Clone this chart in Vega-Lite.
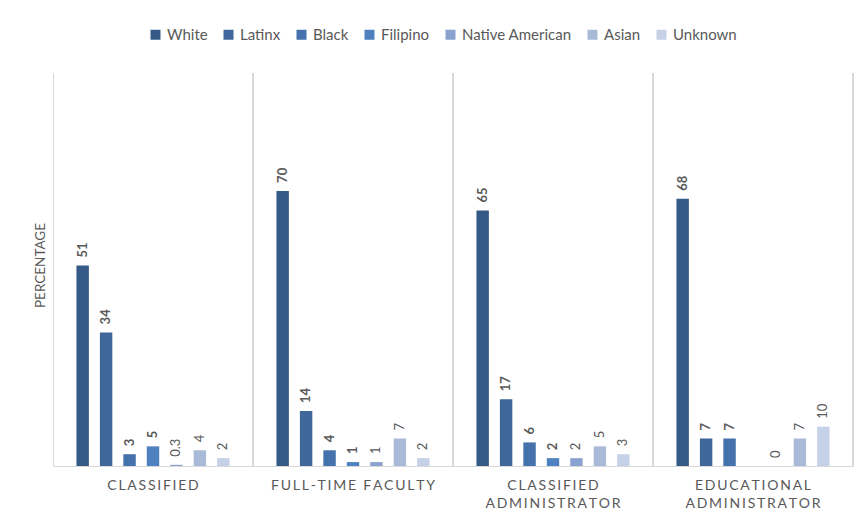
{
  "$schema": "https://vega.github.io/schema/vega-lite/v6.json",
  "width": 800,
  "height": 393,
  "autosize": {"type": "none"},
  "padding": {"left": 53, "top": 73, "right": 10, "bottom": 48},
  "background": "white",
  "config": {"view": {"stroke": null}, "font": "Lato"},
  "data": {
    "values": [
      {"category": "CLASSIFIED", "group": "White", "value": 51},
      {"category": "CLASSIFIED", "group": "Latinx", "value": 34},
      {"category": "CLASSIFIED", "group": "Black", "value": 3},
      {"category": "CLASSIFIED", "group": "Filipino", "value": 5},
      {"category": "CLASSIFIED", "group": "Native American", "value": 0.3},
      {"category": "CLASSIFIED", "group": "Asian", "value": 4},
      {"category": "CLASSIFIED", "group": "Unknown", "value": 2},
      {"category": "FULL-TIME FACULTY", "group": "White", "value": 70},
      {"category": "FULL-TIME FACULTY", "group": "Latinx", "value": 14},
      {"category": "FULL-TIME FACULTY", "group": "Black", "value": 4},
      {"category": "FULL-TIME FACULTY", "group": "Filipino", "value": 1},
      {"category": "FULL-TIME FACULTY", "group": "Native American", "value": 1},
      {"category": "FULL-TIME FACULTY", "group": "Asian", "value": 7},
      {"category": "FULL-TIME FACULTY", "group": "Unknown", "value": 2},
      {"category": "CLASSIFIED ADMINISTRATOR", "group": "White", "value": 65},
      {"category": "CLASSIFIED ADMINISTRATOR", "group": "Latinx", "value": 17},
      {"category": "CLASSIFIED ADMINISTRATOR", "group": "Black", "value": 6},
      {"category": "CLASSIFIED ADMINISTRATOR", "group": "Filipino", "value": 2},
      {"category": "CLASSIFIED ADMINISTRATOR", "group": "Native American", "value": 2},
      {"category": "CLASSIFIED ADMINISTRATOR", "group": "Asian", "value": 5},
      {"category": "CLASSIFIED ADMINISTRATOR", "group": "Unknown", "value": 3},
      {"category": "EDUCATIONAL ADMINISTRATOR", "group": "White", "value": 68},
      {"category": "EDUCATIONAL ADMINISTRATOR", "group": "Latinx", "value": 7},
      {"category": "EDUCATIONAL ADMINISTRATOR", "group": "Black", "value": 7},
      {"category": "EDUCATIONAL ADMINISTRATOR", "group": "Native American", "value": 0},
      {"category": "EDUCATIONAL ADMINISTRATOR", "group": "Asian", "value": 7},
      {"category": "EDUCATIONAL ADMINISTRATOR", "group": "Unknown", "value": 10}
    ]
  },
  "encoding": {
    "x": {
      "field": "category",
      "type": "nominal",
      "sort": ["CLASSIFIED", "FULL-TIME FACULTY", "CLASSIFIED ADMINISTRATOR", "EDUCATIONAL ADMINISTRATOR"],
      "scale": {"paddingInner": 0, "paddingOuter": 0},
      "axis": {
        "title": null,
        "labelAngle": 0,
        "ticks": false,
        "grid": false,
        "domainColor": "#d9d9d9",
        "labelFont": "Lato",
        "labelFontSize": 14,
        "labelColor": "#595959",
        "labelPadding": 12,
        "labelLineHeight": 18,
        "labelExpr": "indexof(datum.value, ' ADMINISTRATOR') > 0 ? [join(split(slice(datum.value, 0, indexof(datum.value, ' ')), ''), '\u2009'), join(split('ADMINISTRATOR', ''), '\u2009')] : join(split(datum.value, ''), '\u2009')"
      }
    },
    "y": {
      "field": "value",
      "type": "quantitative",
      "scale": {"domain": [0, 100]},
      "axis": {
        "title": "PERCENTAGE",
        "labels": false,
        "ticks": false,
        "grid": false,
        "domainColor": "#d9d9d9",
        "titleFont": "Lato",
        "titleFontSize": 13.5,
        "titleFontWeight": "normal",
        "titleColor": "#595959",
        "titleX": -13,
        "titleY": 192,
        "titleAlign": "center",
        "titleBaseline": "middle",
        "titleAngle": -90
      }
    }
  },
  "layer": [
    {
      "mark": {"type": "rule", "color": "#d9d9d9", "strokeWidth": 1},
      "encoding": {
        "x": {"field": "category", "type": "nominal", "bandPosition": 1},
        "y": {"datum": 0},
        "y2": {"datum": 100}
      }
    },
    {
      "mark": {"type": "bar"},
      "encoding": {
        "xOffset": {
          "field": "group",
          "type": "nominal",
          "sort": ["White", "Latinx", "Black", "Filipino", "Native American", "Asian", "Unknown"],
          "scale": {"domain": ["White", "Latinx", "Black", "Filipino", "Native American", "Asian", "Unknown"], "paddingInner": 0.47, "paddingOuter": 1.18}
        },
        "color": {
          "field": "group",
          "type": "nominal",
          "scale": {
            "domain": ["White", "Latinx", "Black", "Filipino", "Native American", "Asian", "Unknown"],
            "range": ["#355a87", "#3f679b", "#4572ac", "#4f80bf", "#8aa2cf", "#a9bad9", "#c5d1e6"]
          },
          "legend": {
            "title": null,
            "orient": "none",
            "direction": "horizontal",
            "columns": 7,
            "legendX": 95,
            "legendY": -46,
            "symbolType": "square",
            "symbolSize": 100,
            "symbolStrokeWidth": 0,
            "labelFont": "Lato",
            "labelFontSize": 15,
            "labelColor": "#595959",
            "labelOffset": 4,
            "columnPadding": 13
          }
        }
      }
    },
    {
      "transform": [{"filter": {"field": "group", "oneOf": ["White", "Latinx", "Black", "Filipino"]}}],
      "mark": {"type": "text", "angle": -90, "align": "left", "baseline": "middle", "dx": 8, "font": "Lato", "fontSize": 13, "fontWeight": "bold", "color": "#595959"},
      "encoding": {
        "xOffset": {"field": "group", "type": "nominal"},
        "text": {"field": "value", "type": "quantitative"}
      }
    },
    {
      "transform": [{"filter": {"field": "group", "oneOf": ["Native American", "Asian", "Unknown"]}}],
      "mark": {"type": "text", "angle": -90, "align": "left", "baseline": "middle", "dx": 8, "font": "Lato", "fontSize": 13, "fontWeight": "normal", "color": "#595959"},
      "encoding": {
        "xOffset": {"field": "group", "type": "nominal"},
        "text": {"field": "value", "type": "quantitative"}
      }
    }
  ]
}
